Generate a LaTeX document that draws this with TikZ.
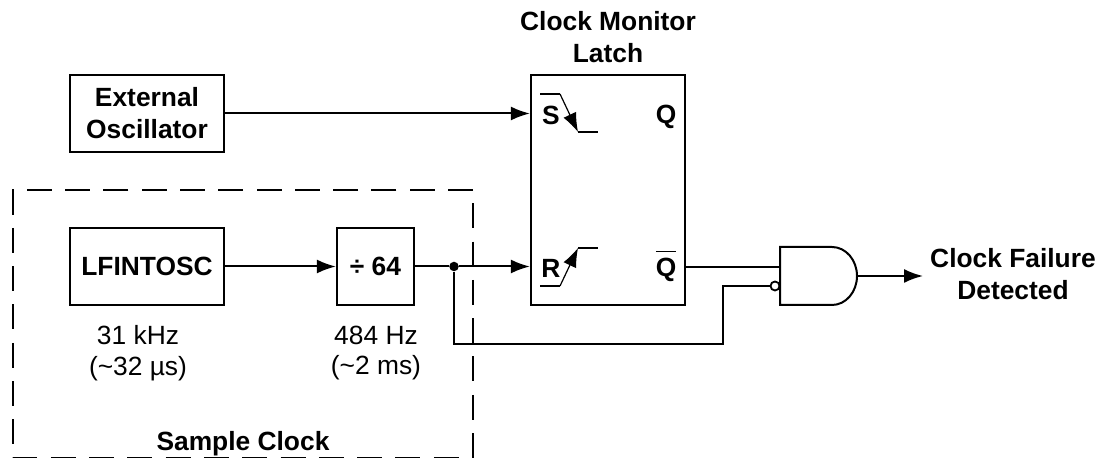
\documentclass[tikz,border=0pt]{standalone}
\usepackage{fontspec}
\setmainfont{Liberation Sans}
\usetikzlibrary{calc, arrows.meta, positioning}

\tikzset{
    blockbox/.style={draw, line width=0.045cm, align=center, inner sep=0pt, font=\fontsize{15}{18.2}\selectfont\bfseries},
    boldlabel/.style={align=center, inner sep=0pt, font=\fontsize{15}{18.2}\selectfont\bfseries},
    freqlabel/.style={align=center, inner sep=0pt, font=\fontsize{15}{17.6}\selectfont},
    wire/.style={line width=0.04cm},
    sigarrow/.style={wire, -{Latex[length=0.38cm, width=0.28cm]}},
    edgetrace/.style={line width=0.024cm},
    samplebound/.style={line width=0.03cm, dash pattern=on 0.5cm off 0.266cm}
}

\begin{document}
\begin{tikzpicture}[scale=1]

        \useasboundingbox (0,0) rectangle (22,9.16);

        % Blocchi
        \node[blockbox, minimum width=3.08cm, minimum height=1.54cm] (extosc) at (2.94, 6.89) {External\\Oscillator};
        \node[blockbox, minimum width=3.08cm, minimum height=1.54cm] (lfintosc) at (2.94, 3.83) {LFINTOSC};
        \node[blockbox, minimum width=1.54cm, minimum height=1.54cm] (divider) at (7.51, 3.83) {÷ 64};
        \node[blockbox, minimum width=3.08cm, minimum height=4.6cm] (latch) at (12.16, 5.36) {};

        % Etichette del latch
        \node[boldlabel, above=0.22cm of latch.north] (latchname) {Clock Monitor\\Latch};
        \node[boldlabel] (pinS) at (11.02, 6.86) {S};
        \node[boldlabel] (pinQ) at (13.32, 6.82) {Q};
        \node[boldlabel] (pinR) at (11.02, 3.80) {R};
        \node[boldlabel] (pinQbar) at (13.32, 3.84) {$\overline{\mbox{\rule{0pt}{0.84em}\textbf{Q}}}$};

        % Fronti di S e R
        \draw[edgetrace] (10.8, 7.28) -- (11.2, 7.28);
        \draw[edgetrace, -{Latex[length=0.38cm, width=0.28cm]}] (11.2, 7.28) -- (11.56, 6.52);
        \draw[edgetrace] (11.56, 6.52) -- (11.96, 6.52);
        \draw[edgetrace] (10.8, 3.44) -- (11.2, 3.44);
        \draw[edgetrace, -{Latex[length=0.38cm, width=0.28cm]}] (11.2, 3.44) -- (11.56, 4.20);
        \draw[edgetrace] (11.56, 4.20) -- (11.96, 4.20);

        % Porta AND con ingresso negato
        \draw[line width=0.04cm] (16.64, 4.22) -- (15.6, 4.22) -- (15.6, 3.06) -- (16.64, 3.06)
            arc[start angle=-90, end angle=90, x radius=0.5cm, y radius=0.58cm];
        \coordinate (gatein) at (15.6, 3.82);
        \coordinate (gateout) at (17.14, 3.64);
        \node[circle, draw, line width=0.036cm, fill=white, minimum size=0.18cm, inner sep=0pt] (bubble) at (15.5, 3.44) {};

        % Collegamenti
        \draw[sigarrow] (extosc.east) -- (latch.west |- extosc.east);
        \draw[sigarrow] (lfintosc) -- (divider);
        \node[circle, fill=black, minimum size=0.19cm, inner sep=0pt] (junction) at (9.08, 3.83) {};
        \draw[wire] (divider) -- (junction);
        \draw[sigarrow] (junction) -- (latch.west |- junction);
        \draw[wire] (latch.east |- gatein) -- (gatein);
        \draw[wire] (junction) |- (14.46, 2.28) |- (bubble);

        % Uscita
        \node[boldlabel] (failure) at (20.26, 3.68) {Clock Failure\\Detected};
        \draw[sigarrow] (gateout) -- (18.46, 3.64);

        % Frequenze
        \node[freqlabel] (lffreq) at (2.76, 2.1) {31 kHz\\(\char`\~32 µs)};
        \node[freqlabel] (divfreq) at (7.52, 2.1) {484 Hz\\(\char`\~2 ms)};

        % Regione tratteggiata
        \draw[samplebound] (9.46, 5.36) -- (0.26, 5.36) -- (0.26, -0.005) -- (9.46, -0.005);
        \draw[samplebound, dash phase=0.5cm] (9.46, 5.36) -- (9.46, 0);
        \node[boldlabel] (samplename) at (4.86, 0.28) {Sample Clock};

    \end{tikzpicture}
\end{document}
